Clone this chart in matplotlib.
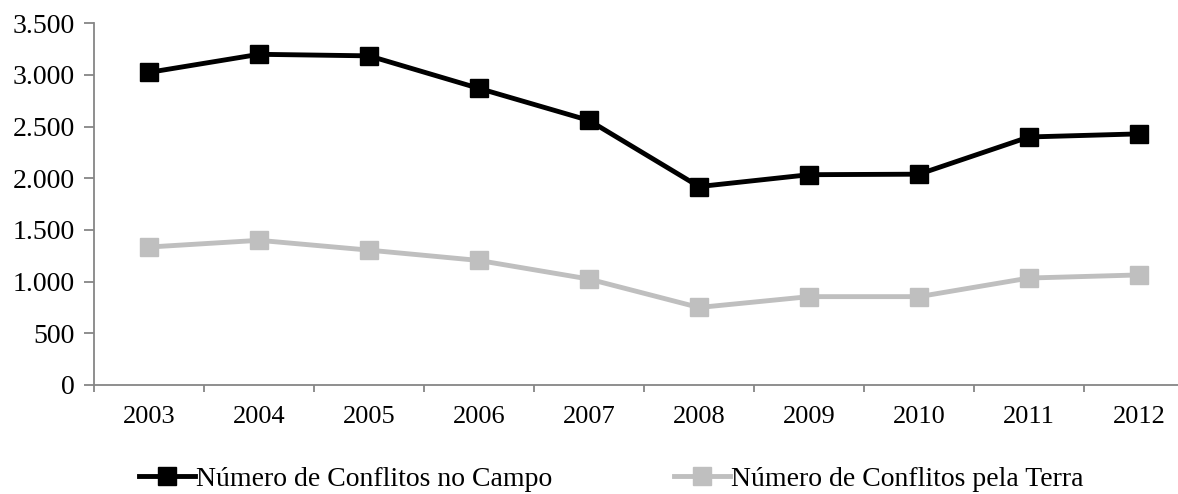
import matplotlib.pyplot as plt
import matplotlib.ticker as ticker

anos = ['2003', '2004', '2005', '2006', '2007', '2008', '2009', '2010', '2011', '2012']
conflitos_campo = [3025, 3200, 3185, 2870, 2560, 1920, 2035, 2040, 2400, 2430]
conflitos_terra = [1335, 1400, 1305, 1205, 1025, 750, 855, 855, 1035, 1065]

plt.rcParams['font.family'] = ['Liberation Serif', 'DejaVu Serif']

fig = plt.figure(figsize=(11.78, 4.94), dpi=100)
ax = fig.add_axes([94 / 1178, 1 - 385 / 494, 1100 / 1178, (385 - 23.3) / 494])

x = list(range(len(anos)))
ax.plot(x, conflitos_campo, color='black', lw=3.5, marker='s', ms=13.5,
        label='Número de Conflitos no Campo')
ax.plot(x, conflitos_terra, color='#BFBFBF', lw=3.5, marker='s', ms=13.5,
        label='Número de Conflitos pela Terra')

ax.set_xlim(-0.5, len(anos) - 0.5)
ax.set_ylim(0, 3500)
ax.yaxis.set_major_locator(ticker.MultipleLocator(500))
ax.yaxis.set_major_formatter(ticker.FuncFormatter(lambda v, p: f'{int(v):,}'.replace(',', '.')))

# category labels centered, ticks on the boundaries
ax.set_xticks([i - 0.5 for i in range(len(anos))])
ax.set_xticklabels([])
ax.set_xticks(x, minor=True)
ax.set_xticklabels(anos, minor=True)
ax.tick_params(axis='x', which='minor', length=0, pad=15, labelsize=19)
ax.tick_params(axis='x', which='major', length=5, width=1.3, color='#868686')
ax.tick_params(axis='y', length=7, width=1.3, color='#868686', labelsize=20, pad=7)

for side in ['top', 'right']:
    ax.spines[side].set_visible(False)
for side in ['left', 'bottom']:
    ax.spines[side].set_color('#868686')
    ax.spines[side].set_linewidth(1.3)

fig.legend(loc='center', bbox_to_anchor=(0.519, 0.03), ncol=2, frameon=False,
           fontsize=20, handlelength=2.0, handletextpad=0.05, columnspacing=4.4,
           borderpad=0)

fig.savefig('out.png', dpi=100)
